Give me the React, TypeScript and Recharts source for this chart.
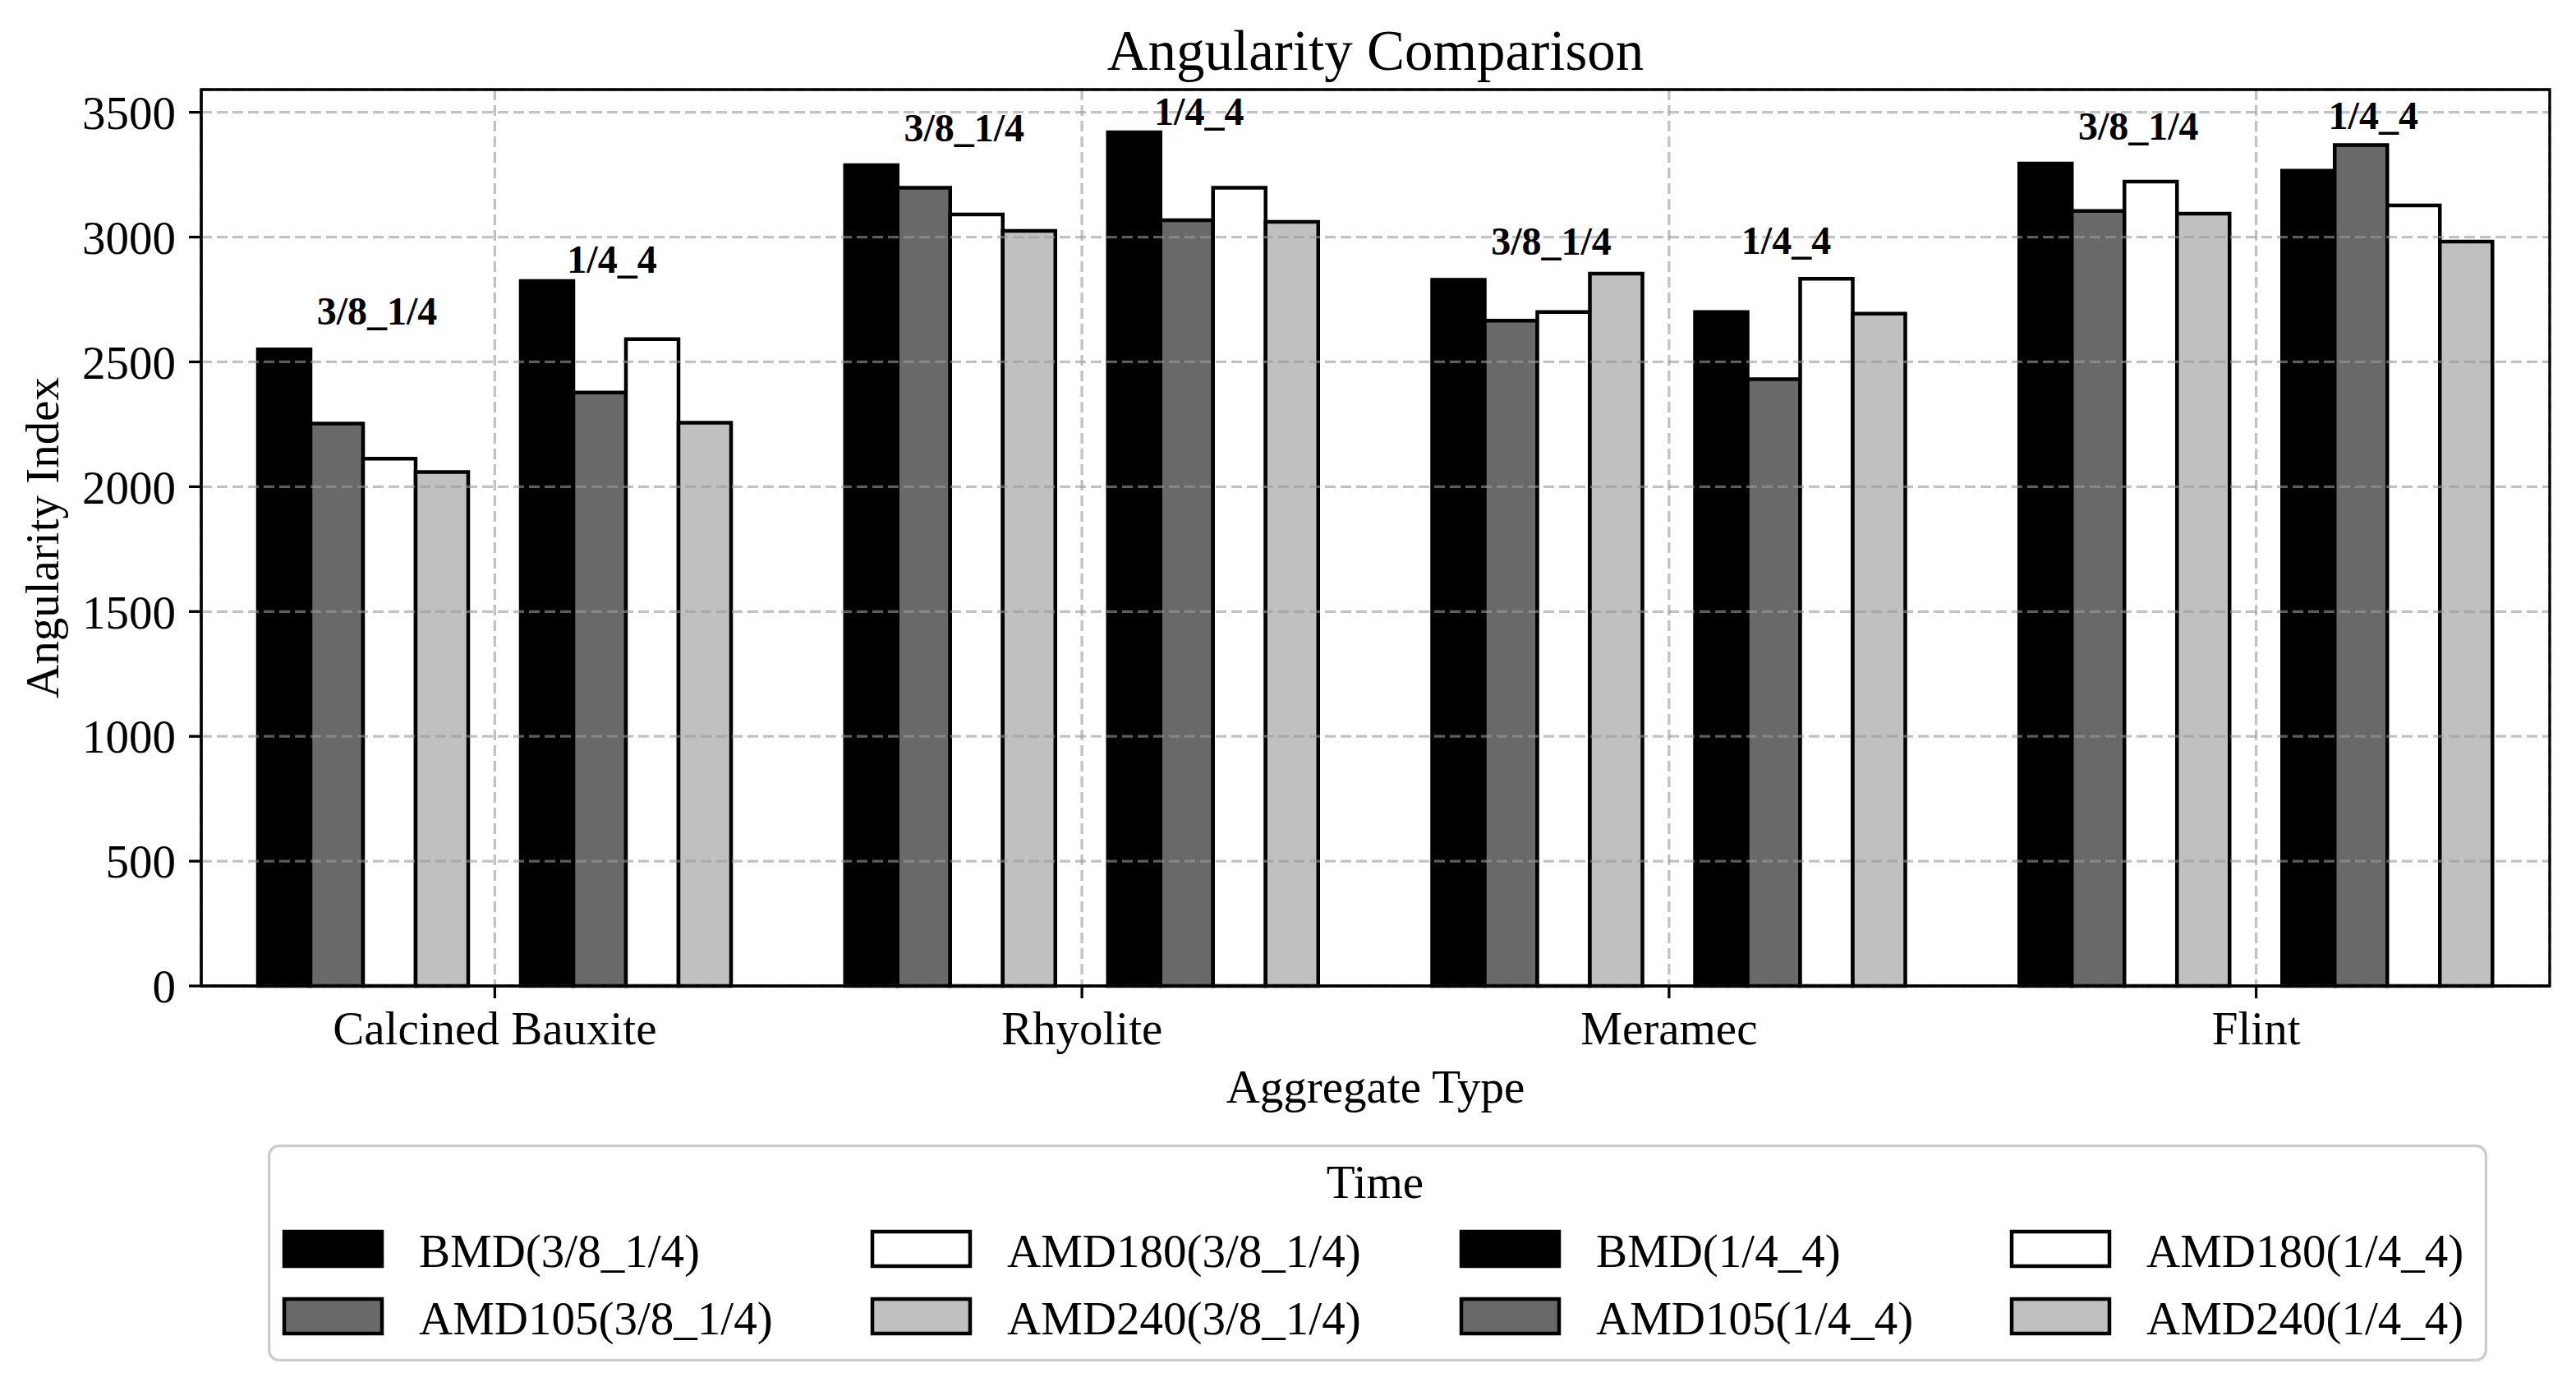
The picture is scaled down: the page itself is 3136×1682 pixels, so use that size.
import React from "react";
import {
  BarChart,
  Bar,
  XAxis,
  YAxis,
  CartesianGrid,
  Legend,
  LabelList,
  ReferenceArea,
} from "recharts";

const FONT = "'Liberation Serif', 'Times New Roman', serif";

const categories = ["Calcined Bauxite", "Rhyolite", "Meramec", "Flint"];

// 3/8_1/4 size fraction
const bmd38 = [2550, 3288, 2829, 3295];
const amd105_38 = [2253, 3198, 2665, 3105];
const amd180_38 = [2112, 3091, 2700, 3222];
const amd240_38 = [2059, 3025, 2854, 3094];

// 1/4_4 size fraction
const bmd14 = [2824, 3420, 2700, 3266];
const amd105_14 = [2377, 3068, 2431, 3369];
const amd180_14 = [2591, 3198, 2833, 3127];
const amd240_14 = [2256, 3061, 2693, 2982];

// heights (index units) where the group captions sit
const label38 = [2649, 3385, 2929, 3391];
const label14 = [2858, 3451, 2932, 3433];

const yTicks = [0, 500, 1000, 1500, 2000, 2500, 3000, 3500];

const series = [
  { key: "bmd38", name: "BMD(3/8_1/4)", fill: "#000000", values: bmd38 },
  { key: "amd105_38", name: "AMD105(3/8_1/4)", fill: "#696969", values: amd105_38 },
  { key: "amd180_38", name: "AMD180(3/8_1/4)", fill: "#ffffff", values: amd180_38 },
  { key: "amd240_38", name: "AMD240(3/8_1/4)", fill: "#c0c0c0", values: amd240_38 },
  { key: "bmd14", name: "BMD(1/4_4)", fill: "#000000", values: bmd14 },
  { key: "amd105_14", name: "AMD105(1/4_4)", fill: "#696969", values: amd105_14 },
  { key: "amd180_14", name: "AMD180(1/4_4)", fill: "#ffffff", values: amd180_14 },
  { key: "amd240_14", name: "AMD240(1/4_4)", fill: "#c0c0c0", values: amd240_14 },
];

const data = categories.map((category, i) => {
  const row: Record<string, any> = { category };
  series.forEach((s) => {
    row[s.key] = s.values[i];
  });
  return row;
});

const groupLabel =
  (text: string, labels: number[], barValues: number[], shift: number) =>
  (props: any) => {
    const vb = props.viewBox && props.viewBox.width != null ? props.viewBox : props;
    const { x, y, width, height } = vb;
    const i = props.index;
    if (x == null || !barValues[i]) return null;
    const base = y + height;
    const perUnit = height / barValues[i];
    return (
      <text
        x={x + width / 2 + shift * width}
        y={base - labels[i] * perUnit}
        textAnchor="middle"
        fontFamily={FONT}
        fontWeight="bold"
        fontSize={48}
        fill="#000"
      >
        {text}
      </text>
    );
  };

const LEG_W = 2702;
const LEG_H = 264;
const colLeft = [18, 734, 1451, 2121];
const rowTop = [104, 186];

const renderLegend = () => (
  <svg width={LEG_W} height={LEG_H} style={{ display: "block" }}>
    <rect
      x={1.65}
      y={1.65}
      width={LEG_W - 3.3}
      height={LEG_H - 3.3}
      rx={12}
      fill="#ffffff"
      fillOpacity={0.8}
      stroke="#cccccc"
      strokeWidth={3.3}
    />
    <text x={1348} y={65} textAnchor="middle" fontFamily={FONT} fontSize={57} fill="#000">
      Time
    </text>
    {series.map((s, i) => {
      const left = colLeft[Math.floor(i / 2)];
      const top = rowTop[i % 2];
      return (
        <g key={s.key}>
          <rect x={left + 2} y={top + 2} width={119} height={42} fill={s.fill} stroke="#000" strokeWidth={4.5} />
          <text x={left + 166} y={top + 45} fontFamily={FONT} fontSize={57} fill="#000">
            {s.name}
          </text>
        </g>
      );
    })}
  </svg>
);

const tickStyle = { fontSize: 57, fill: "#000", fontFamily: FONT };

export default function App() {
  const bars = series.map((s) => (
    <Bar
      key={s.key}
      dataKey={s.key}
      name={s.name}
      fill={s.fill}
      stroke="#000"
      strokeWidth={4.5}
      isAnimationActive={false}
    >
      {s.key === "amd180_38" && (
        <LabelList dataKey="amd180_38" content={groupLabel("3/8_1/4", label38, amd180_38, -0.234)} />
      )}
      {s.key === "amd105_14" && (
        <LabelList dataKey="amd105_14" content={groupLabel("1/4_4", label14, amd105_14, 0.234)} />
      )}
    </Bar>
  ));

  return (
    <div style={{ width: 3120, height: 1666, background: "#fff" }}>
      <BarChart
        width={3120}
        height={1666}
        data={data}
        margin={{ top: 101, right: 24, left: 0, bottom: 374 }}
        barSize={64}
        barGap={0}
      >
        <XAxis
          dataKey="category"
          interval={0}
          height={100}
          tick={tickStyle}
          tickSize={15}
          tickMargin={16}
          axisLine={{ stroke: "#000", strokeWidth: 3.3 }}
          tickLine={{ stroke: "#000", strokeWidth: 3.3 }}
          label={{
            content: (p: any) => {
              const vb = p.viewBox;
              return (
                <text
                  x={vb.x + vb.width / 2}
                  y={vb.y + 142}
                  textAnchor="middle"
                  fontFamily={FONT}
                  fontSize={57}
                  fill="#000"
                >
                  Aggregate Type
                </text>
              );
            },
          }}
        />
        <YAxis
          width={237}
          domain={[0, 3591]}
          ticks={yTicks}
          tick={tickStyle}
          tickSize={15}
          tickMargin={16}
          axisLine={{ stroke: "#000", strokeWidth: 3.3 }}
          tickLine={{ stroke: "#000", strokeWidth: 3.3 }}
          label={{
            content: (p: any) => {
              const vb = p.viewBox;
              const cy = vb.y + vb.height / 2;
              return (
                <text
                  x={63}
                  y={cy}
                  transform={`rotate(-90, 63, ${cy})`}
                  textAnchor="middle"
                  fontFamily={FONT}
                  fontSize={57}
                  fill="#000"
                >
                  Angularity Index
                </text>
              );
            },
          }}
        />
        {bars.slice(0, 4)}
        <Bar dataKey="gap" legendType="none" fill="none" isAnimationActive={false} />
        {bars.slice(4)}
        <CartesianGrid
          stroke="#9a9a9a"
          strokeOpacity={0.6}
          strokeWidth={3.3}
          strokeDasharray="13 6"
          zIndex={1000}
        />
        <ReferenceArea
          y1={0}
          y2={3591}
          ifOverflow="visible"
          fill="none"
          fillOpacity={0}
          stroke="#000"
          strokeOpacity={1}
          strokeWidth={3.3}
          zIndex={1100}
          label={{
            content: (p: any) => {
              const vb = p.viewBox;
              return (
                <text
                  x={vb.x + vb.width / 2}
                  y={vb.y - 24}
                  textAnchor="middle"
                  fontFamily={FONT}
                  fontSize={69}
                  fill="#000"
                >
                  Angularity Comparison
                </text>
              );
            },
          }}
        />
        <Legend
          layout="horizontal"
          verticalAlign="middle"
          align="center"
          content={renderLegend}
          wrapperStyle={{ left: 318, top: 1385, width: LEG_W, height: LEG_H }}
        />
      </BarChart>
    </div>
  );
}
